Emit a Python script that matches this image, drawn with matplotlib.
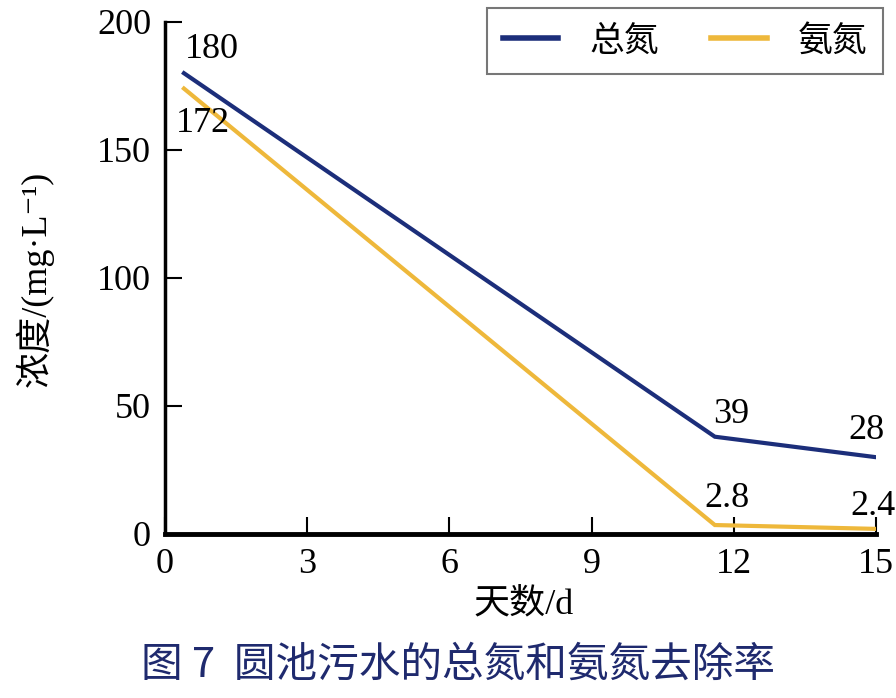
import matplotlib
matplotlib.use("Agg")
import matplotlib.pyplot as plt

plt.rcParams['font.family'] = ['Liberation Serif', 'Noto Sans CJK SC', 'DejaVu Sans']

# data
days = [0.4, 11.6, 15]
total_n = [180, 38, 30]
ammonia_n = [174, 3.5, 2]
total_labels = ["180", "39", "28"]
ammonia_labels = ["172", "2.8", "2.4"]
series_names = ["总氮", "氨氮"]
xticks = [0, 3, 6, 9, 12, 15]
yticks = [0, 50, 100, 150, 200]

blue = '#1c2e7a'
yellow = '#eeb83b'

fig = plt.figure(figsize=(8.96, 6.98), dpi=100)
ax = fig.add_axes([165/896, 1-534/698, 711/896, 512/698])

l1, = ax.plot(days, total_n, color=blue, lw=3, solid_joinstyle='miter', label=series_names[0])
l2, = ax.plot(days, ammonia_n, color=yellow, lw=3, solid_joinstyle='miter', label=series_names[1])

ax.set_xlim(0, 15)
ax.set_ylim(0, 200)
ax.set_xticks(xticks)
ax.set_yticks(yticks)
ax.tick_params(direction='in', length=12, width=1.5, labelsize=26, pad=10)
for s in ['top', 'right']:
    ax.spines[s].set_visible(False)
ax.spines['left'].set_linewidth(2.5)
ax.spines['bottom'].set_linewidth(3.5)
for lab in ax.get_xticklabels() + ax.get_yticklabels():
    lab.set_family('Liberation Serif')

tot_off = [(20, 17), (12, 16), (-7, 19)]
amm_off = [(14, -25), (9, 19), (-2, 16)]
for x, y, t, o in zip(days, total_n, total_labels, tot_off):
    ax.annotate(t, (x, y), xytext=o, textcoords='offset points', ha='center', va='center',
                fontsize=26, family='Liberation Serif', annotation_clip=False)
for x, y, t, o in zip(days, ammonia_n, ammonia_labels, amm_off):
    ax.annotate(t, (x, y), xytext=o, textcoords='offset points', ha='center', va='center',
                fontsize=26, family='Liberation Serif', annotation_clip=False)

leg = fig.legend(handles=[l1, l2], loc='upper right', bbox_to_anchor=(883/896, 1-8/698),
                 ncol=2, fancybox=False, framealpha=1, edgecolor='#777777',
                 prop={'family': 'Noto Sans CJK SC', 'size': 25},
                 handlelength=1.6, handletextpad=0.9, columnspacing=1.5,
                 borderpad=0.45, borderaxespad=0)
leg.get_frame().set_linewidth(1.5)
for h in leg.legend_handles:
    h.set_linewidth(4)

fig.text(524/896, 1-605/698, "天数/d", ha='center', va='center', fontsize=26,
         family=['Liberation Serif', 'Noto Sans CJK SC'])
# y label: CJK part + serif part with superscript
ylab_main = fig.text(35/896, 1-279/698, "浓度/(mg·L\u207b\u00b9)", ha='center', va='center',
                     fontsize=26, rotation=90,
                     family=['Liberation Serif', 'Noto Sans CJK SC', 'DejaVu Sans'])
fig.text(458/896, 1-665/698, "图 7  圆池污水的总氮和氨氮去除率", ha='center', va='center',
         fontsize=30, color='#1f2a6e', weight='medium', family=['Noto Sans CJK SC', 'DejaVu Sans'])

fig.savefig('out.png', dpi=100)
